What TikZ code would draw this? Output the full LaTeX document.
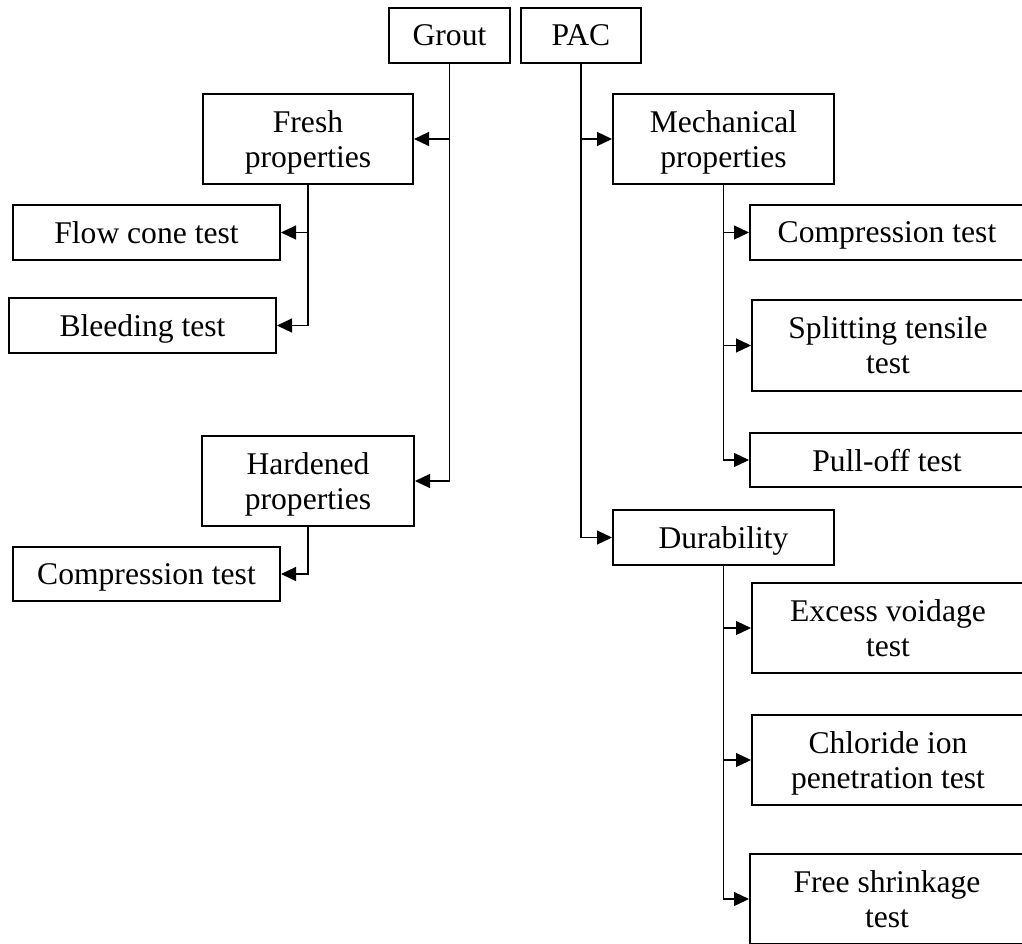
\documentclass[tikz,border=0pt]{standalone}
\usepackage{fontspec}
\setmainfont{Liberation Serif}
\usetikzlibrary{arrows.meta}
\tikzset{
  box/.style={draw, line width=1pt, inner sep=0pt, align=center, text depth=0pt,
    font=\fontsize{15.8}{17.5}\selectfont},
  arr/.style={-{Triangle[length=7.5pt,width=7pt]}, line width=0.6pt},
}
\begin{document}
\begin{tikzpicture}[x=0.5pt,y=-0.5pt]
  \useasboundingbox (0,0) rectangle (1022,943);
  \clip (0,0) rectangle (1022,943);
  % roots
  \node[box,minimum width=60.5pt,minimum height=27.5pt] (grout) at (449.5,35.5) {Grout};
  \node[box,minimum width=60pt,minimum height=27.5pt] (pac) at (581,35.5) {PAC};
  % grout branch
  \node[box,minimum width=105pt,minimum height=45pt] (fresh) at (308,139) {Fresh\\properties};
  \node[box,minimum width=133.5pt,minimum height=27.5pt] (flow) at (146.5,232.5) {Flow cone test};
  \node[box,minimum width=133.5pt,minimum height=27.5pt] (bleed) at (142.5,325.5) {Bleeding test};
  \node[box,minimum width=106pt,minimum height=45pt] (hard) at (308,481) {Hardened\\properties};
  \node[box,minimum width=133.5pt,minimum height=27pt] (complow) at (146.5,574) {Compression test};
  % pac branch
  \node[box,minimum width=110.5pt,minimum height=45pt] (mech) at (723.5,139) {Mechanical\\properties};
  \node[box,minimum width=137pt,minimum height=27.5pt] (comphigh) at (887,232.5) {Compression test};
  \node[box,minimum width=136pt,minimum height=45.5pt] (split) at (888,345.5) {Splitting tensile\\test};
  \node[box,minimum width=137pt,minimum height=27pt] (pull) at (887,460) {Pull-off test};
  \node[box,minimum width=110.5pt,minimum height=27.5pt] (dur) at (723.5,537.5) {Durability};
  \node[box,minimum width=136pt,minimum height=45pt] (void) at (888,628) {Excess voidage\\test};
  \node[box,minimum width=136pt,minimum height=45pt] (chlor) at (888,760) {Chloride ion\\penetration test};
  \node[box,minimum width=137pt,minimum height=45pt] (shrink) at (887,899) {Free shrinkage\\test};
  % connectors
  \draw[arr] (grout.south) |- (fresh.east);
  \draw[arr] (grout.south) |- (hard.east);
  \draw[arr] (fresh.south) |- (flow.east);
  \draw[arr] (fresh.south) |- (bleed.east);
  \draw[arr] (hard.south) |- (complow.east);
  \draw[arr] (pac.south) |- (mech.west);
  \draw[arr] (pac.south) |- (dur.west);
  \draw[arr] (mech.south) |- (comphigh.west);
  \draw[arr] (mech.south) |- (split.west);
  \draw[arr] (mech.south) |- (pull.west);
  \draw[arr] (dur.south) |- (void.west);
  \draw[arr] (dur.south) |- (chlor.west);
  \draw[arr] (dur.south) |- (shrink.west);
\end{tikzpicture}
\end{document}
